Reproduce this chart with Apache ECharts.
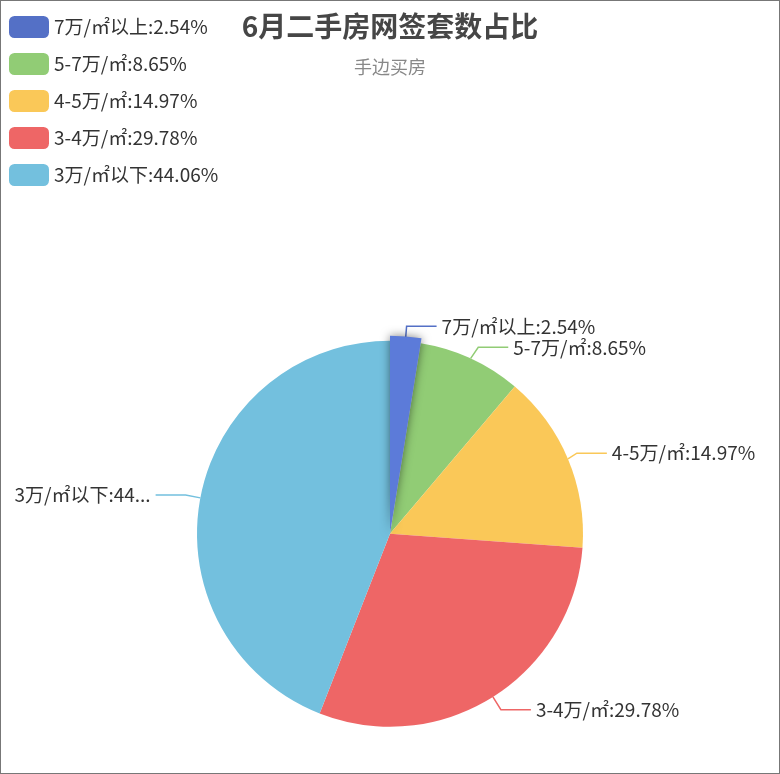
<!DOCTYPE html>
<html>
<head>
  <meta charset="UTF-8">
  <script src="https://cdn.jsdelivr.net/npm/echarts@6/dist/echarts.min.js"></script>
  <style>
    html, body { margin: 0; padding: 0; background: #fff; }
    #main { width: 778px; height: 772px; border: 1px solid #777; }
  </style>
</head>
<body>
  <div id="main"></div>
  <script>
    // 价格区间 和 占比(%)
    var names = ['7万/㎡以上', '5-7万/㎡', '4-5万/㎡', '3-4万/㎡', '3万/㎡以下'];
    var percents = [2.54, 8.65, 14.97, 29.78, 44.06];
    var colors = ['#5470c6', '#91cc75', '#fac858', '#ee6666', '#73c0de'];

    var pieData = [];
    for (var i = 0; i < names.length; i++) {
      pieData.push({ name: names[i], value: percents[i] });
    }

    var font = '"Noto Sans CJK SC", "Noto Sans", sans-serif';

    var myChart = echarts.init(document.getElementById('main'));
    myChart.setOption({
      color: colors,
      textStyle: { fontFamily: font },
      title: {
        text: '6月二手房网签套数占比',
        subtext: '手边买房',
        left: 'center',
        top: 6,
        itemGap: 18,
        textStyle: { fontSize: 28, fontWeight: 'bold', color: '#464646', fontFamily: font },
        subtextStyle: { fontSize: 18, color: '#888', fontFamily: font }
      },
      legend: {
        orient: 'vertical',
        left: 3,
        top: 10,
        itemWidth: 40,
        itemHeight: 22,
        itemGap: 15,
        textStyle: { fontSize: 19, color: '#333', fontFamily: font },
        formatter: function (name) {
          var idx = names.indexOf(name);
          return name + ':' + percents[idx] + '%';
        }
      },
      series: [{
        name: '占比',
        type: 'pie',
        radius: '50%',
        center: ['50%', '69%'],
        data: pieData,
        label: {
          formatter: '{b}:{d}%',
          fontSize: 19,
          color: '#333',
          fontFamily: font
        },
        labelLine: {
          lineStyle: { width: 1.5 }
        },
        emphasis: {
          itemStyle: {
            shadowBlur: 10,
            shadowOffsetX: 0,
            shadowColor: 'rgba(0, 0, 0, 0.5)'
          }
        }
      }]
    });

    // 第一块保持高亮
    myChart.dispatchAction({ type: 'highlight', seriesIndex: 0, dataIndex: 0 });
  </script>
</body>
</html>
